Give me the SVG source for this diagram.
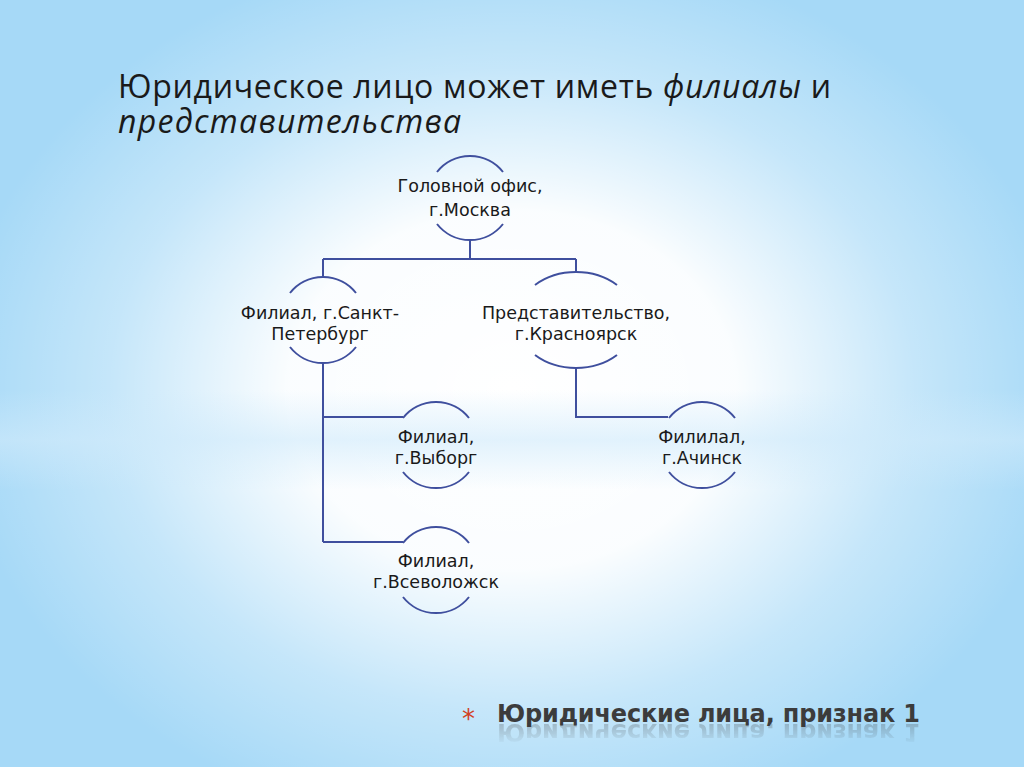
<svg xmlns="http://www.w3.org/2000/svg" width="1024" height="767" viewBox="0 0 1024 767">
<defs>
<radialGradient id="glow" cx="512" cy="390" r="560" gradientUnits="userSpaceOnUse" gradientTransform="translate(512 390) scale(1 0.8) translate(-512 -390)">
<stop offset="0" stop-color="#ffffff" stop-opacity="1"/>
<stop offset="0.4" stop-color="#ffffff" stop-opacity="0.95"/>
<stop offset="0.72" stop-color="#ffffff" stop-opacity="0.35"/>
<stop offset="1" stop-color="#ffffff" stop-opacity="0"/>
</radialGradient>
<linearGradient id="band" x1="0" y1="0" x2="0" y2="1">
<stop offset="0" stop-color="#cfeafb" stop-opacity="0"/>
<stop offset="0.5" stop-color="#cfeafb" stop-opacity="0.6"/>
<stop offset="1" stop-color="#cfeafb" stop-opacity="0"/>
</linearGradient>
<linearGradient id="refl" x1="0" y1="0" x2="0" y2="1">
<stop offset="0" stop-color="#fff" stop-opacity="0.45"/>
<stop offset="1" stop-color="#fff" stop-opacity="0"/>
</linearGradient>
<mask id="rm" maskUnits="userSpaceOnUse" x="0" y="720" width="1024" height="40">
<rect x="0" y="723" width="1024" height="22" fill="url(#refl)"/>
</mask>
<style>
.ln{fill:none;stroke:#3f4f9e;stroke-width:2}
.nt{font-family:"DejaVu Sans","Noto Sans",sans-serif;font-size:17.5px;fill:#1a1a1a;text-anchor:middle}
.tt{font-family:"Open Sans","Noto Sans",sans-serif;font-size:32px;fill:#1a1a1a}
.ft{font-family:"DejaVu Sans",sans-serif;font-size:24px;font-weight:bold;fill:#3c3c3c}
</style>
</defs>
<rect width="1024" height="767" fill="#a6d9f7"/>
<rect width="1024" height="767" fill="url(#glow)"/>
<rect x="0" y="390" width="1024" height="100" fill="url(#band)"/>

<g id="title">
<text class="tt" x="118" y="98" textLength="713" lengthAdjust="spacing">Юридическое лицо может иметь <tspan font-style="italic">филиалы</tspan> и</text>
<text class="tt" x="118" y="133" font-style="italic" textLength="343" lengthAdjust="spacing">представительства</text>
</g>

<g id="connectors" class="ln">
<path d="M470 240 V259 M323 259 H576 M323 259 V278 M576 259 V272"/>
<path d="M323 362 V542 M323 417 H403 M323 542 H403"/>
<path d="M576 368 V417 H668"/>
</g>

<g id="node-moscow">
<path class="ln" d="M437 172 A42 42 0 0 1 503 172 M437 224 A42 42 0 0 0 503 224"/>
<text class="nt" x="470" y="192">Головной офис,</text>
<text class="nt" x="470" y="216">г.Москва</text>
</g>

<g id="node-spb">
<path class="ln" d="M290 293 A42 42 0 0 1 356 293 M290 347 A42 42 0 0 0 356 347"/>
<text class="nt" x="320" y="319">Филиал, г.Санкт-</text>
<text class="nt" x="320" y="340">Петербург</text>
</g>

<g id="node-krasnoyarsk">
<path class="ln" d="M535 285 A60 48 0 0 1 617 285 M535 355 A60 48 0 0 0 617 355"/>
<text class="nt" x="576" y="319">Представительство,</text>
<text class="nt" x="576" y="340">г.Красноярск</text>
</g>

<g id="node-vyborg">
<path class="ln" d="M403 418 A42 42 0 0 1 469 418 M403 472 A42 42 0 0 0 469 472"/>
<text class="nt" x="436" y="443">Филиал,</text>
<text class="nt" x="436" y="464">г.Выборг</text>
</g>

<g id="node-achinsk">
<path class="ln" d="M669 418 A42 42 0 0 1 735 418 M669 472 A42 42 0 0 0 735 472"/>
<text class="nt" x="702" y="443">Филилал,</text>
<text class="nt" x="702" y="464">г.Ачинск</text>
</g>

<g id="node-vsevolozhsk">
<path class="ln" d="M403 543 A42 42 0 0 1 469 543 M403 597 A42 42 0 0 0 469 597"/>
<text class="nt" x="436" y="567">Филиал,</text>
<text class="nt" x="436" y="588">г.Всеволожск</text>
</g>

<g id="footer">
<text x="462" y="728" font-family="DejaVu Sans,sans-serif" font-size="26" fill="#d2401e">*</text>
<text class="ft" x="497" y="722" textLength="423" lengthAdjust="spacing">Юридические лица, признак 1</text>
<g mask="url(#rm)">
<text class="ft" x="497" y="722" textLength="423" lengthAdjust="spacing" transform="translate(0 1446) scale(1 -1)" opacity="0.6">Юридические лица, признак 1</text>
</g>
</g>
</svg>
